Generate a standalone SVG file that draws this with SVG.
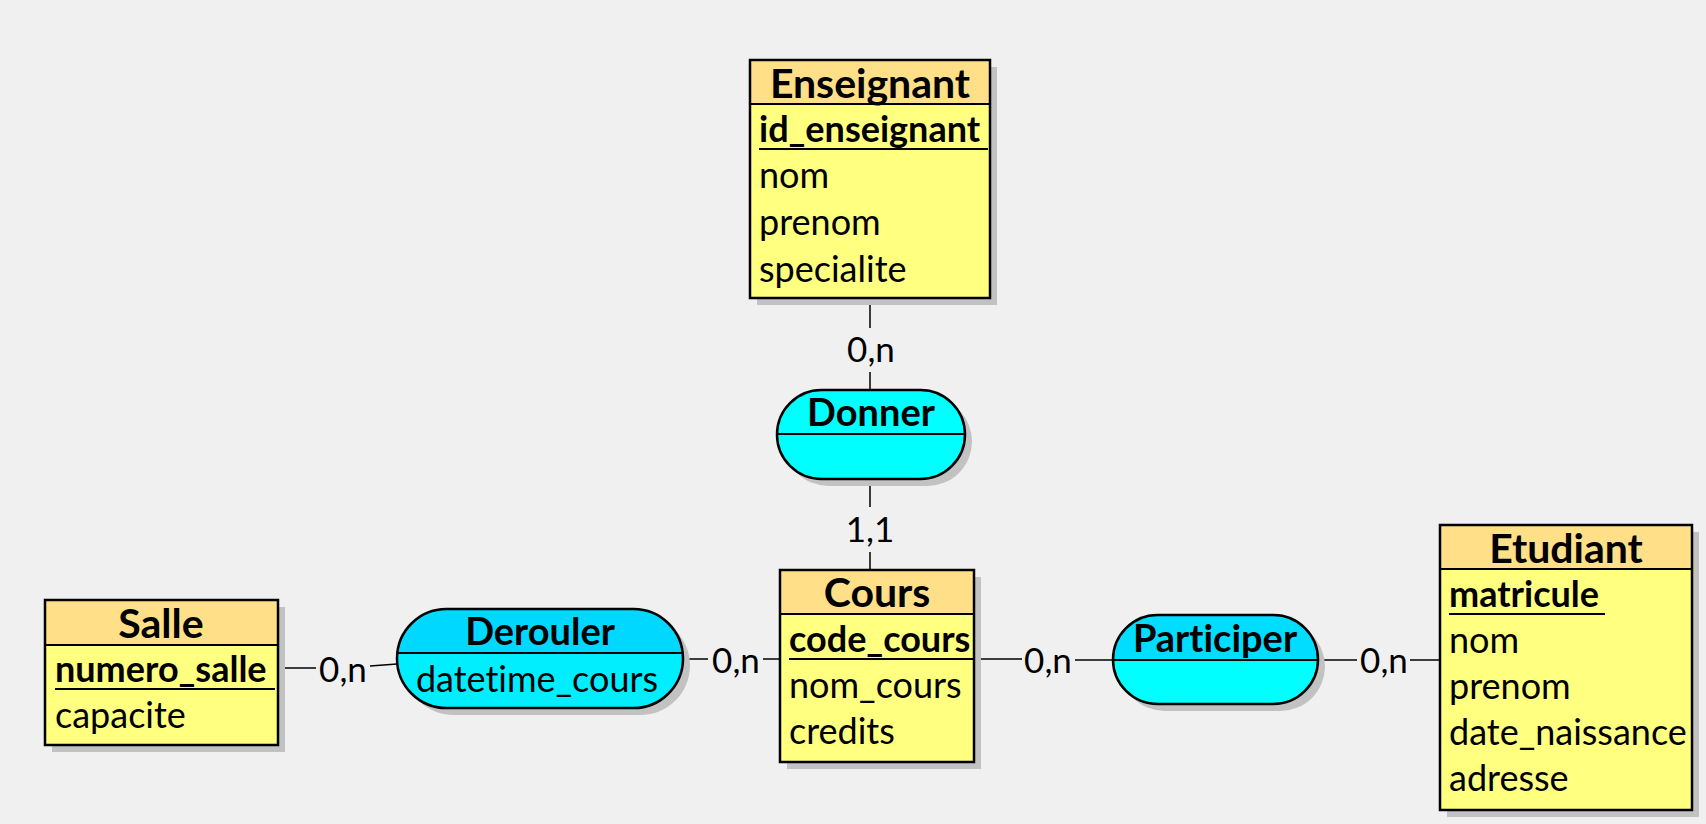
<svg xmlns="http://www.w3.org/2000/svg" width="1706" height="824" viewBox="0 0 1706 824">
<defs>
<style>
text{font-family:Lato,"Open Sans","Liberation Sans",sans-serif;fill:#000;font-variant-ligatures:none;font-feature-settings:"liga" 0}
.hd{font-size:41px;font-weight:bold;text-anchor:middle}
.key{font-size:36px;font-weight:bold}
.at{font-size:36px}
.lab{font-size:35px;text-anchor:middle}
.rel{font-size:36px;text-anchor:middle}
.relh{font-size:38px;font-weight:bold;text-anchor:middle}
.shadow{fill:#c2c2c2}
.ehead{fill:#FFDF87;stroke:none}
.ebody{fill:#FFFF80;stroke:none}
.frame{fill:none;stroke:#000;stroke-width:2.5}
.sep{stroke:#000;stroke-width:2}
.conn line{stroke:#000;stroke-width:1.5}
</style>
</defs>
<rect width="1706" height="824" fill="#F0F0F0"/>

<g id="connectors" class="conn">
<line x1="870" y1="298" x2="870" y2="328"/>
<line x1="870" y1="372" x2="870" y2="390"/>
<line x1="870" y1="479" x2="870" y2="507"/>
<line x1="870" y1="552" x2="870" y2="570"/>
<line x1="278" y1="668" x2="316" y2="668"/>
<line x1="370" y1="666" x2="397" y2="664"/>
<line x1="683" y1="659" x2="708" y2="659"/>
<line x1="763" y1="659" x2="780" y2="659"/>
<line x1="974" y1="659" x2="1022" y2="659"/>
<line x1="1075" y1="660" x2="1113" y2="660"/>
<line x1="1318" y1="660" x2="1357" y2="660"/>
<line x1="1410" y1="660" x2="1440" y2="660"/>
<text class="lab" x="871" y="362">0,n</text>
<text class="lab" x="870" y="542">1,1</text>
<text class="lab" x="343" y="682">0,n</text>
<text class="lab" x="736" y="673">0,n</text>
<text class="lab" x="1048" y="673">0,n</text>
<text class="lab" x="1384" y="673">0,n</text>
</g>

<g id="enseignant">
<rect class="shadow" x="757" y="67" width="240" height="238"/>
<rect class="ebody" x="750" y="60" width="240" height="238"/>
<rect class="ehead" x="750" y="60" width="240" height="44"/>
<line class="sep" x1="750" y1="104" x2="990" y2="104"/>
<rect class="frame" x="750" y="60" width="240" height="238"/>
<text class="hd" x="870" y="98">Enseignant</text>
<text class="key" x="759" y="142">id_enseignant</text>
<line class="sep" x1="759" y1="149" x2="988" y2="149"/>
<text class="at" x="759" y="188">nom</text>
<text class="at" x="759" y="235">prenom</text>
<text class="at" x="759" y="282">specialite</text>
</g>

<g id="donner">
<rect class="shadow" x="784" y="397" width="188" height="89" rx="44.5"/>
<rect x="777" y="390" width="188" height="89" rx="44.5" fill="#00FFFF" stroke="#000" stroke-width="2.5"/>
<line class="sep" x1="777" y1="434" x2="965" y2="434"/>
<text class="relh" x="871" y="426">Donner</text>
</g>

<g id="salle">
<rect class="shadow" x="52" y="607" width="233" height="145"/>
<rect class="ebody" x="45" y="600" width="233" height="145"/>
<rect class="ehead" x="45" y="600" width="233" height="45"/>
<line class="sep" x1="45" y1="645" x2="278" y2="645"/>
<rect class="frame" x="45" y="600" width="233" height="145"/>
<text class="hd" x="161" y="638">Salle</text>
<text class="key" x="55" y="682">numero_salle</text>
<line class="sep" x1="55" y1="689" x2="275" y2="689"/>
<text class="at" x="55" y="728">capacite</text>
</g>

<g id="derouler">
<rect class="shadow" x="404" y="616" width="286" height="99" rx="49.5"/>
<clipPath id="cd"><rect x="397" y="609" width="286" height="99" rx="49.5"/></clipPath>
<g clip-path="url(#cd)">
<rect x="397" y="609" width="286" height="44" fill="#00D8FF"/>
<rect x="397" y="653" width="286" height="55" fill="#00EEFF"/>
</g>
<rect x="397" y="609" width="286" height="99" rx="49.5" fill="none" stroke="#000" stroke-width="2.5"/>
<line class="sep" x1="397" y1="653" x2="683" y2="653"/>
<text class="relh" x="540" y="645">Derouler</text>
<text class="rel" x="537" y="692">datetime_cours</text>
</g>

<g id="cours">
<rect class="shadow" x="787" y="577" width="194" height="192"/>
<rect class="ebody" x="780" y="570" width="194" height="192"/>
<rect class="ehead" x="780" y="570" width="194" height="44"/>
<line class="sep" x1="780" y1="614" x2="974" y2="614"/>
<rect class="frame" x="780" y="570" width="194" height="192"/>
<text class="hd" x="877" y="607">Cours</text>
<text class="key" x="789" y="652">code_cours</text>
<line class="sep" x1="789" y1="659" x2="973" y2="659"/>
<text class="at" x="789" y="698">nom_cours</text>
<text class="at" x="789" y="744">credits</text>
</g>

<g id="participer">
<rect class="shadow" x="1120" y="622" width="205" height="89" rx="44.5"/>
<clipPath id="cp"><rect x="1113" y="615" width="205" height="89" rx="44.5"/></clipPath>
<g clip-path="url(#cp)">
<rect x="1113" y="615" width="205" height="45" fill="#00DDFF"/>
<rect x="1113" y="660" width="205" height="44" fill="#00FFFF"/>
</g>
<rect x="1113" y="615" width="205" height="89" rx="44.5" fill="none" stroke="#000" stroke-width="2.5"/>
<line class="sep" x1="1113" y1="660" x2="1318" y2="660"/>
<text class="relh" x="1215" y="652">Participer</text>
</g>

<g id="etudiant">
<rect class="shadow" x="1447" y="532" width="252" height="285"/>
<rect class="ebody" x="1440" y="525" width="252" height="285"/>
<rect class="ehead" x="1440" y="525" width="252" height="44"/>
<line class="sep" x1="1440" y1="569" x2="1692" y2="569"/>
<rect class="frame" x="1440" y="525" width="252" height="285"/>
<text class="hd" x="1566" y="563">Etudiant</text>
<text class="key" x="1449" y="607">matricule</text>
<line class="sep" x1="1449" y1="614" x2="1605" y2="614"/>
<text class="at" x="1449" y="653">nom</text>
<text class="at" x="1449" y="699">prenom</text>
<text class="at" x="1449" y="745">date_naissance</text>
<text class="at" x="1449" y="791">adresse</text>
</g>
</svg>
